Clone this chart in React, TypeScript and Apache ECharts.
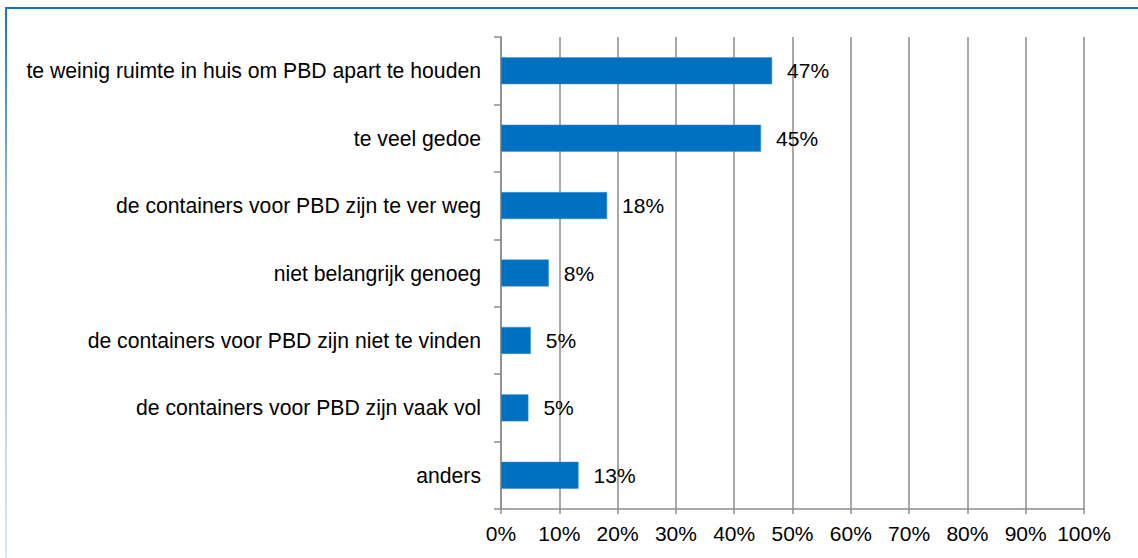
import React, { useEffect, useRef } from "react";
import * as echarts from "echarts";

const categories = [
  "te weinig ruimte in huis om PBD apart te houden",
  "te veel gedoe",
  "de containers voor PBD zijn te ver weg",
  "niet belangrijk genoeg",
  "de containers voor PBD zijn niet te vinden",
  "de containers voor PBD zijn vaak vol",
  "anders",
];
const values = [46.5, 44.6, 18.2, 8.2, 5.1, 4.7, 13.3];
const xTicks = [0, 10, 20, 30, 40, 50, 60, 70, 80, 90, 100];

const FONT = "'Liberation Sans', Arial, sans-serif";
const GRAY = "#8c8c8c";

export default function App() {
  const ref = useRef<HTMLDivElement>(null);
  useEffect(() => {
    if (!ref.current) return;
    const chart = echarts.init(ref.current, null, { renderer: "svg" });
    chart.setOption({
      animation: false,
      backgroundColor: "#ffffff",
      textStyle: { fontFamily: FONT },
      grid: { left: 501, right: 54, top: 37, bottom: 49, containLabel: false },
      xAxis: {
        type: "value",
        min: xTicks[0],
        max: xTicks[xTicks.length - 1],
        interval: 10,
        axisLine: { show: true, lineStyle: { color: GRAY, width: 1.5 } },
        axisTick: { show: true, length: 5, lineStyle: { color: GRAY, width: 1.5 } },
        splitLine: { show: true, lineStyle: { color: GRAY, width: 1.5 } },
        axisLabel: {
          formatter: "{value}%",
          color: "#000",
          fontSize: 21,
          fontFamily: FONT,
          margin: 14,
        },
      },
      yAxis: {
        type: "category",
        inverse: true,
        data: categories,
        axisLine: { show: true, lineStyle: { color: GRAY, width: 1.5 } },
        axisTick: { show: true, length: 7, lineStyle: { color: GRAY, width: 1.5 } },
        axisLabel: { color: "#000", fontSize: 21.2, fontFamily: FONT, margin: 20 },
        splitLine: { show: false },
      },
      series: [
        {
          type: "bar",
          data: values,
          barCategoryGap: "60%",
          itemStyle: { color: "#0070c0", borderColor: "#3b8fd0", borderWidth: 0.5 },
          label: {
            show: true,
            position: "right",
            distance: 15,
            color: "#000",
            fontSize: 21,
            fontFamily: FONT,
            formatter: (p: any) => Math.round(p.value) + "%",
          },
        },
      ],
      graphic: [
        {
          type: "rect",
          shape: { x: 5, y: 7, width: 1133, height: 2 },
          style: { fill: "#1a73b8" },
          silent: true,
        },
        {
          type: "rect",
          shape: { x: 5, y: 7, width: 2, height: 551 },
          style: {
            fill: new echarts.graphic.LinearGradient(0, 0, 0, 1, [
              { offset: 0, color: "#1a73b8" },
              { offset: 0.35, color: "#8fb8de" },
              { offset: 1, color: "#dce8f5" },
            ]),
          },
          silent: true,
        },
      ],
    });
    return () => chart.dispose();
  }, []);
  return (
    <div
      ref={ref}
      style={{ position: "fixed", left: 0, top: 0, width: 1138, height: 558, background: "#fff" }}
    />
  );
}
